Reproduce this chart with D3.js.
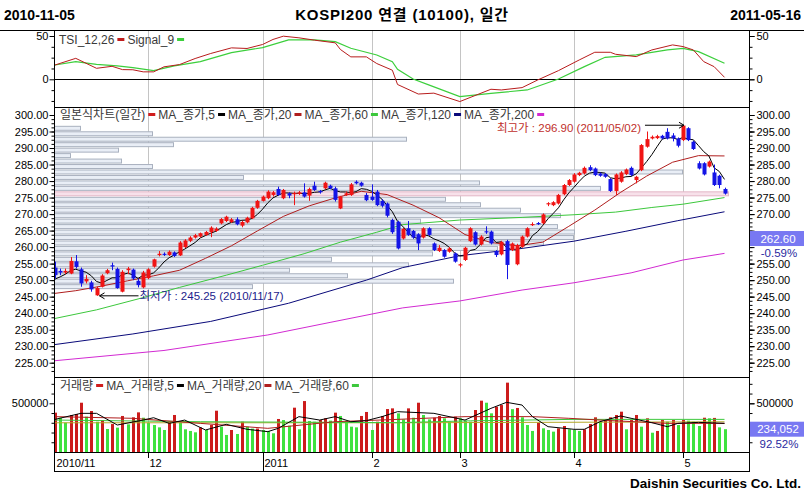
<!DOCTYPE html>
<html>
<head>
<meta charset="utf-8">
<script src="https://cdn.jsdelivr.net/npm/d3@7"></script>
<style>
  body { margin: 0; background: #fff; }
  svg text { font-family: "Liberation Sans", "Noto Sans CJK KR", sans-serif; }
</style>
</head>
<body>
<div id="viz"></div>
<script>
// ---- data (KOSPI200 daily, 2010-11-05 .. 2011-05-16) ----
const openP = [253.8,252.8,252.3,252.0,255.7,253.3,249.6,249.3,245.4,248.0,252.1,254.5,253.4,246.5,253.0,253.2,249.8,247.8,250.6,254.1,
  257.6,258.0,257.6,258.4,257.5,260.0,261.9,262.9,263.2,263.7,264.5,264.9,267.2,267.9,267.6,268.4,266.5,267.5,268.7,271.9,
  274.0,274.8,275.8,277.6,274.8,276.3,276.0,276.1,276.6,275.6,278.6,277.0,277.8,278.6,277.8,271.7,275.8,275.8,279.8,279.5,
  275.8,275.3,276.8,274.0,273.2,268.2,267.7,262.6,265.7,264.9,263.9,262.9,265.7,261.1,258.8,259.1,258.6,258.1,254.5,256.1,
  261.8,264.5,260.8,264.8,264.7,258.8,257.8,261.8,259.1,254.8,260.1,263.2,266.7,267.3,267.2,273.1,272.7,273.2,276.0,278.8,
  279.8,281.8,282.3,284.2,283.8,282.3,282.1,280.6,277.0,279.8,282.1,284.0,280.3,283.3,290.4,292.9,293.0,293.7,294.9,293.8,
  292.9,292.4,296.0,291.9,285.4,285.4,284.4,282.6,281.6,277.6];
const highP = [255.6,253.5,253.5,257.0,257.6,253.8,251.5,249.8,248.0,251.8,253.4,255.3,253.8,253.0,254.0,253.5,250.5,252.8,253.6,256.5,
  258.8,258.4,259.0,258.7,261.8,262.4,263.3,264.0,264.4,264.9,266.3,266.0,268.8,269.5,268.8,269.0,268.0,269.2,272.2,274.3,
  275.6,277.2,277.0,278.3,277.6,276.6,276.8,277.0,279.3,278.0,279.8,277.3,279.8,278.9,278.3,275.5,276.8,279.4,280.2,279.8,
  276.4,279.0,277.3,274.5,273.5,268.6,268.0,265.8,267.9,265.2,264.2,266.0,266.0,261.4,260.6,259.4,260.0,258.4,255.2,260.1,
  266.0,264.8,263.6,266.3,265.0,259.1,261.9,262.2,261.4,261.0,263.5,266.0,267.5,267.6,270.2,273.6,273.9,276.1,279.1,280.6,
  282.4,282.8,284.4,284.8,284.1,282.6,282.4,280.9,282.3,283.0,283.8,284.4,281.6,291.2,295.0,293.8,294.0,294.0,296.0,294.5,
  293.2,296.9,296.3,292.2,286.0,285.7,286.2,285.0,281.9,278.0];
const lowP = [250.5,251.5,251.8,251.8,253.5,248.0,249.0,246.5,245.25,247.8,251.8,253.0,247.4,246.3,251.8,250.0,247.8,247.5,250.3,253.8,
  257.2,257.3,257.3,257.0,257.3,259.7,261.5,262.6,262.9,263.4,263.0,264.6,266.9,267.6,267.3,266.6,266.0,267.2,268.5,271.6,
  273.8,274.5,275.3,275.5,274.5,274.8,272.7,275.8,275.0,274.0,277.0,276.2,277.5,277.5,273.8,271.5,275.5,275.5,279.0,278.3,
  273.9,274.0,272.4,272.0,269.0,264.0,259.3,262.3,263.4,262.5,259.1,262.6,263.4,258.8,258.5,256.8,258.3,255.3,253.9,255.8,
  261.5,260.5,260.5,264.0,260.8,257.0,257.5,250.3,258.8,254.5,259.8,262.9,266.4,266.7,266.9,272.4,272.4,272.9,275.7,278.5,
  279.5,281.5,282.0,283.0,281.5,281.3,281.0,276.7,275.8,279.5,281.8,281.5,279.3,283.0,290.1,292.6,292.7,292.6,292.6,292.0,
  290.2,292.1,292.1,289.4,283.5,281.7,284.1,278.5,277.8,275.9];
const closeP = [251.5,252.3,252.8,255.8,254.0,249.0,250.4,247.2,247.6,251.4,253.0,254.1,247.6,252.5,253.5,250.5,248.5,252.3,253.3,256.3,
  258.0,257.7,258.6,257.3,261.4,262.0,262.9,263.6,264.2,264.6,265.9,265.6,268.5,269.2,268.4,266.9,267.6,268.9,271.9,274.0,
  275.3,276.8,276.6,275.8,277.3,275.6,276.4,276.6,275.3,277.6,277.3,276.6,279.5,277.8,274.3,275.3,276.3,279.0,279.3,278.6,
  274.2,274.3,272.7,272.5,269.5,264.5,259.6,265.5,263.7,262.9,261.1,265.7,263.7,259.1,259.8,257.1,259.6,255.6,254.8,259.8,
  265.7,260.8,263.2,264.5,261.1,257.6,261.6,254.6,261.1,260.6,263.2,265.7,267.0,267.0,269.9,273.3,273.6,275.8,278.8,280.3,
  282.0,282.5,284.0,283.3,281.8,281.6,281.3,277.0,282.0,282.6,283.5,281.8,281.3,290.9,292.7,293.4,293.6,292.9,292.9,292.9,
  290.7,296.8,292.4,289.7,283.8,282.0,285.9,278.8,278.8,276.2];

// volume, thousands of contracts
const volume = [404,352,301,380,390,506,363,421,311,328,236,287,250,370,284,356,407,352,301,277,
  253,226,311,380,301,233,216,202,253,226,277,424,260,175,226,185,311,260,240,241,
  226,216,192,339,328,270,455,233,523,318,311,328,346,322,404,370,318,260,253,370,
  411,226,311,370,441,448,397,335,448,352,506,380,335,352,370,346,311,363,346,322,
  311,431,527,506,397,465,482,712,440,452,356,277,216,301,243,226,209,243,267,233,
  226,216,233,287,356,311,328,356,380,414,233,328,380,260,346,198,216,328,311,328,
  277,328,322,311,267,352,346,350,252.97,234.052];

// moving averages of close
const ma5 = [250.3,251.0,251.8,252.9,253.3,252.8,252.4,251.3,249.6,249.1,249.9,250.7,250.7,251.7,252.1,251.6,250.5,251.5,251.6,252.2,
  253.7,255.5,256.8,257.6,258.6,259.4,260.4,261.4,262.8,263.5,264.2,264.8,265.8,266.8,267.5,267.7,268.1,268.2,268.7,269.9,
  271.5,273.4,274.9,275.7,276.4,276.4,276.3,276.3,276.2,276.3,276.6,276.7,277.3,277.8,277.1,276.7,276.7,276.5,276.8,277.7,
  277.5,276.9,275.8,274.5,272.6,270.7,267.8,266.3,264.6,263.0,262.6,263.8,263.4,262.5,261.9,261.1,259.9,258.2,257.3,257.4,
  259.0,259.3,260.9,262.8,263.1,261.4,261.6,259.9,259.2,259.1,260.2,261.0,263.5,264.7,266.6,268.6,270.2,271.9,274.3,276.4,
  278.1,279.9,281.5,282.4,282.7,282.6,282.4,281.0,280.7,280.9,281.3,281.4,282.2,284.0,285.9,288.0,290.4,292.7,293.1,293.1,
  292.6,293.2,292.7,292.5,290.7,288.9,287.6,284.0,282.9,280.5];
const ma20Idx = [0,4,9,14,19,24,29,34,39,44,49,54,59,64,69,74,79,84,89,94,99,104,109,114,119,124,129];
const ma20 = [246.0,246.8,248.2,249.8,251.3,253.0,256.6,260.4,264.9,269.3,272.5,274.9,276.9,275.9,272.7,268.9,263.8,261.4,260.4,261.5,266.3,271.2,276.6,281.5,285.7,287.7,287.6];
const ma60Idx = [0,8,16,24,33,40,48,55,62,67,78,90,100,108,115,121,129];
const ma60 = [238.4,241.0,244.3,247.8,251.5,254.5,258.0,261.5,264.5,266.8,268.2,269.0,269.8,270.6,272.0,273.0,275.0];
const ma120Idx = [0,15,30,45,60,67,78,90,100,110,120,129];
const ma120 = [230.5,233.7,237.5,243.0,250.0,253.8,257.4,259.6,261.8,264.8,268.0,270.7];
const ma200Idx = [0,21,41,53,67,78,90,100,111,121,129];
const ma200 = [225.6,228.7,233.4,237.2,241.6,243.7,247.0,249.2,252.2,256.1,258.1];

// TSI(12,26) and signal(9)
const tsiIdx = [0,4,8,11,13,15,17,19,21,24,27,30,34,37,40,42,44,47,50,54,55,57,60,62,65,66,70,73,78,84,86,90,93,97,101,104,107,108,112,115,119,121,123,125,127,129];
const tsi = [16.5,24.2,12.7,15.0,11.2,11.0,8.6,8.6,14.4,17.0,24.0,29.8,36.3,35.6,40.2,46.0,49.8,47.9,45.2,42.1,34.4,25.9,25.9,18.2,10.5,-6.0,-17.0,-16.0,-25.7,-11.5,-12.3,-9.6,-0.8,10.0,22.3,31.2,31.2,28.9,26.2,33.9,39.7,37.8,33.9,20.4,14.6,2.3];
const sigIdx = [0,4,8,12,15,19,23,28,34,40,45,50,54,57,62,65,66,69,72,78,84,91,97,102,106,112,118,121,124,129];
const signal = [16.5,20.4,17.3,15.4,13.5,10.0,15.4,20.4,30.8,36.6,45.5,45.5,43.5,35.8,28.1,20.4,11.5,0.4,-6.5,-20.0,-16.2,-12.3,0.4,14.6,25.4,28.1,33.9,35.8,32.0,18.5];

// volume moving averages (thousands)
const vma5Idx = [0,5,8,12,17,19,22,25,29,33,37,41,43,47,51,54,57,60,63,66,73,79,84,87,90,92,95,100,102,105,109,111,115,118,120,124,129];
const vma5 = [335,397,397,277,328,352,294,328,226,284,233,209,243,363,328,363,311,322,363,414,397,328,448,510,482,363,260,233,233,311,370,346,301,260,294,304,294];
const vma20Idx = [0,15,28,41,54,66,79,92,99,105,118,129];
const vma20 = [363,346,294,243,311,335,363,363,346,328,294,294];
const vma60Idx = [0,28,66,80,100,129];
const vma60 = [328,311,301,320,335,335];
const vmaLongIdx = [0,66,129];
const vmaLong = [300,300,310];

// price-by-volume profile over closing range, 30 bins bottom -> top
const profileLow = 247.2, profileHigh = 296.8;
const profileVol = [1980,3990,2930,2350,3540,2770,3780,4430,4890,5190,5200,5030,3660,5060,4660,4260,3910,6740,5460,4250,1890,6280,980,670,160,640,1190,3520,980,260];
const currentBin = 17;

// month ticks
const tickIdx = [0,18,40,61,78,100,121];
const tickLabels = ["2010/11","12","2011","2","3","4","5"];

// highlights
const hiIdx = 121, hiVal = 296.90, hiDate = "2011/05/02";
const loIdx = 8, loVal = 245.25, loDate = "2010/11/17";
const priceMark = 262.60, priceMarkPct = "-0.59%";
const volMark = 234052, volMarkPct = "92.52%";

// ---- layout ----
const W = 804, H = 496;
const L = 54, R = 749;
const tsiTop = 30, priceTop = 107, volTop = 377, axisTop = 452, axisBot = 471;

const svg = d3.select("#viz").append("svg").attr("width", W).attr("height", H)
  .style("display", "block");

const x = d3.scaleLinear().domain([0, 129]).range([55, 724.5]);
const yT = d3.scaleLinear().domain([0, 50]).range([79.3, 36]);
const yP = d3.scaleLinear().domain([225, 300]).range([362.7, 115]);
const yV = d3.scaleLinear().domain([0, 500]).range([452, 403.3]);
const xProf = d3.scaleLinear().domain([0, 1000]).range([L, L + 100]);

const defs = svg.append("defs");
function clip(id, y0, y1) {
  defs.append("clipPath").attr("id", id).append("rect")
    .attr("x", L + 1).attr("y", y0 + 1).attr("width", R - L - 1).attr("height", y1 - y0 - 1);
}
clip("cT", tsiTop, priceTop); clip("cP", priceTop, volTop); clip("cV", volTop, axisTop);

// grid lines at month starts
svg.append("g").selectAll("line").data(tickIdx.slice(1)).join("line")
  .attr("x1", d => Math.round(x(d)) + 0.5).attr("x2", d => Math.round(x(d)) + 0.5)
  .attr("y1", tsiTop).attr("y2", axisTop)
  .attr("stroke", "#c4c4c4").attr("stroke-width", 1);

// ---- volume profile ----
const binH = (yP(profileLow) - yP(profileHigh)) / profileVol.length;
svg.append("g").attr("clip-path", "url(#cP)")
  .selectAll("rect").data(profileVol).join("rect")
  .attr("x", L + 0.5)
  .attr("y", (d, i) => yP(profileLow) - (i + 1) * binH + 0.75)
  .attr("width", d => xProf(d) - L)
  .attr("height", binH - 1.5)
  .attr("fill", (d, i) => i === currentBin ? "#f7e1ea" : "#e9eef6")
  .attr("stroke", (d, i) => i === currentBin ? "#e2b6c6" : "#a9b1bf")
  .attr("stroke-width", 1);

// ---- lines helper ----
function drawLine(g, idx, vals, yScale, color, w) {
  const pts = idx.map((d, i) => [x(d), yScale(vals[i])]);
  g.append("path").attr("d", d3.line()(pts))
    .attr("fill", "none").attr("stroke", color).attr("stroke-width", w || 1);
}
const allIdx = d3.range(closeP.length);

// ---- TSI panel ----
const gT = svg.append("g").attr("clip-path", "url(#cT)");
gT.append("line").attr("x1", L).attr("x2", R).attr("y1", Math.round(yT(0)) + 0.5).attr("y2", Math.round(yT(0)) + 0.5)
  .attr("stroke", "#000");
drawLine(gT, sigIdx, signal, yT, "#3ccf3c", 1.2);
drawLine(gT, tsiIdx, tsi, yT, "#b81c1c", 1);

// ---- price panel ----
const gP = svg.append("g").attr("clip-path", "url(#cP)");
drawLine(gP, ma200Idx, ma200, yP, "#d22ad2", 1);
drawLine(gP, ma120Idx, ma120, yP, "#0a0a7a", 1);
drawLine(gP, ma60Idx, ma60, yP, "#3cc83c", 1);
drawLine(gP, ma20Idx, ma20, yP, "#b01e1e", 1);
drawLine(gP, allIdx, ma5, yP, "#000", 1);

const up = i => closeP[i] >= openP[i];
const cRed = "#f01414", cBlue = "#1414e6";
gP.append("g").selectAll("line").data(allIdx).join("line")
  .attr("x1", i => Math.round(x(i)) + 0.5).attr("x2", i => Math.round(x(i)) + 0.5)
  .attr("y1", i => yP(highP[i])).attr("y2", i => yP(lowP[i]))
  .attr("stroke", i => up(i) ? cRed : cBlue).attr("stroke-width", 1);
gP.append("g").selectAll("rect").data(allIdx).join("rect")
  .attr("x", i => Math.round(x(i)) - 1.5)
  .attr("width", 4)
  .attr("y", i => yP(Math.max(openP[i], closeP[i])))
  .attr("height", i => Math.max(1.2, Math.abs(yP(openP[i]) - yP(closeP[i]))))
  .attr("fill", i => up(i) ? cRed : cBlue);

// high / low notes
const hx = x(hiIdx) + 1, hy = yP(hiVal);
svg.append("path").attr("d", `M${hx - 39},${hy}H${hx}M${hx - 5},${hy - 3}L${hx},${hy}L${hx - 5},${hy + 3}`)
  .attr("fill", "none").attr("stroke", "#000");
svg.append("text").attr("x", hx - 43).attr("y", hy + 6.5).attr("text-anchor", "end")
  .attr("font-size", 11.5).attr("fill", "#c0302c").text(`최고가 : ${hiVal.toFixed(2)} (${hiDate})`);
const lx = x(loIdx) + 3, ly = yP(loVal);
svg.append("path").attr("d", `M${lx + 39},${ly}H${lx}M${lx + 5},${ly - 3}L${lx},${ly}L${lx + 5},${ly + 3}`)
  .attr("fill", "none").attr("stroke", "#000");
svg.append("text").attr("x", lx + 40).attr("y", ly + 4.5)
  .attr("font-size", 11.5).attr("fill", "#1c1c8c").text(`최저가 : ${loVal.toFixed(2)} (${loDate})`);

// ---- volume panel ----
const gV = svg.append("g").attr("clip-path", "url(#cV)");
gV.append("g").selectAll("rect").data(allIdx).join("rect")
  .attr("x", i => Math.round(x(i)) - 1)
  .attr("width", 3)
  .attr("y", i => yV(volume[i]))
  .attr("height", i => yV(0) - yV(volume[i]))
  .attr("fill", i => (i === 0 || volume[i] >= volume[i - 1]) ? "#cc1c1c" : "#3fe23f");
drawLine(gV, vmaLongIdx, vmaLong, yV, "#b4a82a", 1);
drawLine(gV, vma60Idx, vma60, yV, "#3cc83c", 1);
drawLine(gV, vma20Idx, vma20, yV, "#b01e1e", 1);
drawLine(gV, vma5Idx, vma5, yV, "#000", 1);

// ---- frame ----
const frame = svg.append("g").attr("stroke", "#000").attr("stroke-width", 1);
frame.append("line").attr("x1", 0).attr("x2", W).attr("y1", tsiTop + 0.5).attr("y2", tsiTop + 0.5);
[priceTop, volTop, axisTop, axisBot].forEach(yy =>
  frame.append("line").attr("x1", L).attr("x2", R).attr("y1", yy + 0.5).attr("y2", yy + 0.5));
[L, R].forEach(xx =>
  frame.append("line").attr("x1", xx + 0.5).attr("x2", xx + 0.5).attr("y1", tsiTop).attr("y2", axisBot + 1));

// ---- axes ----
// labels on the right that sit under a value marker are left out, as in the original
function axisPair(scale, major, minor, fmt, markVal) {
  const rightMajor = markVal == null ? major : major.filter(v => Math.abs(scale(v) - scale(markVal)) > 16);
  const lg = svg.append("g").attr("transform", `translate(${L + 0.5},0)`);
  lg.call(d3.axisLeft(scale).tickValues(minor).tickSize(3).tickFormat(""));
  lg.call(g => g.append("g").call(d3.axisLeft(scale).tickValues(major).tickSize(5).tickPadding(1).tickFormat(fmt)));
  const rg = svg.append("g").attr("transform", `translate(${R + 0.5},0)`);
  rg.call(d3.axisRight(scale).tickValues(minor).tickSize(3).tickFormat(""));
  rg.call(g => g.append("g").call(d3.axisRight(scale).tickValues(major).tickSize(5).tickFormat("")));
  rg.call(g => g.append("g").call(d3.axisRight(scale).tickValues(rightMajor).tickSize(5).tickPadding(2).tickFormat(fmt)));
  [lg, rg].forEach(g => {
    g.selectAll(".domain").remove();
    g.selectAll("text").attr("font-size", 11).attr("fill", "#000").attr("font-family", null);
    g.selectAll("line").attr("stroke", "#000");
  });
}
axisPair(yT, [0, 50], [-25, -12.5, 12.5, 25, 37.5], d3.format("d"));
axisPair(yP, d3.range(225, 300.1, 5), d3.range(222.5, 301, 1.25), d3.format(".2f"), priceMark);
axisPair(yV, [500], [100, 200, 300, 400, 600, 700], d => d3.format("d")(d * 1000), volMark / 1000);

// x axis labels
const gx = svg.append("g");
gx.selectAll("line").data(tickIdx.slice(1)).join("line")
  .attr("x1", d => Math.round(x(d)) + 0.5).attr("x2", d => Math.round(x(d)) + 0.5)
  .attr("y1", axisTop).attr("y2", (d, i) => tickLabels[i + 1] === "2011" ? axisBot : axisTop + 6)
  .attr("stroke", "#000");
gx.selectAll("text").data(tickIdx).join("text")
  .attr("x", d => Math.round(x(d)) + 1.5).attr("y", axisTop + 15)
  .attr("font-size", 11).text((d, i) => tickLabels[i]);

// value markers on the right axis
function marker(yy, label, pct) {
  svg.append("rect").attr("x", R + 1).attr("y", yy - 7.5).attr("width", W - R - 1).attr("height", 15).attr("fill", "#7878f2");
  svg.append("text").attr("x", 778).attr("y", yy + 4).attr("text-anchor", "middle")
    .attr("font-size", 11.5).attr("fill", "#fff").text(label);
  svg.append("text").attr("x", 779).attr("y", yy + 18.5).attr("text-anchor", "middle")
    .attr("font-size", 11.5).attr("fill", "#2a2aa0").text(pct);
}
marker(yP(priceMark), priceMark.toFixed(2), priceMarkPct);
marker(yV(volMark / 1000), d3.format(",")(volMark), volMarkPct);

// ---- legends ----
function legend(xx, yy, items) {
  const g = svg.append("g").attr("font-size", 12).attr("fill", "#3a3a3a");
  let cx = xx;
  items.forEach(([txt, col]) => {
    const t = g.append("text").attr("x", cx).attr("y", yy).text(txt);
    cx += t.node().getComputedTextLength() + 3;
    g.append("rect").attr("x", cx).attr("y", yy - 5.5).attr("width", 7).attr("height", 3).attr("fill", col);
    cx += 10;
  });
}
legend(59, 43.5, [["TSI_12,26", "#c01c1c"], ["Signal_9", "#3ccf3c"]]);
legend(60, 118.5, [["일본식차트(일간)", "#d01c1c"], ["MA_종가,5", "#000"], ["MA_종가,20", "#b01e1e"],
  ["MA_종가,60", "#3cc83c"], ["MA_종가,120", "#0a0a7a"], ["MA_종가,200", "#d22ad2"]]);
legend(60, 389.5, [["거래량", "#d01c1c"], ["MA_거래량,5", "#000"], ["MA_거래량,20", "#b01e1e"], ["MA_거래량,60", "#3cc83c"]]);

// ---- titles ----
svg.append("text").attr("x", 4).attr("y", 20).attr("font-size", 14).attr("font-weight", "bold").text("2010-11-05");
svg.append("text").attr("x", 402).attr("y", 20).attr("text-anchor", "middle").attr("font-size", 15).attr("font-weight", "bold")
  .attr("letter-spacing", 0.8).text("KOSPI200 연결 (10100), 일간");
svg.append("text").attr("x", 801).attr("y", 20).attr("text-anchor", "end").attr("font-size", 14).attr("font-weight", "bold").text("2011-05-16");
svg.append("text").attr("x", 801).attr("y", 488).attr("text-anchor", "end").attr("font-size", 13.5).attr("font-weight", "bold")
  .text("Daishin Securities Co. Ltd.");
</script>
</body>
</html>
